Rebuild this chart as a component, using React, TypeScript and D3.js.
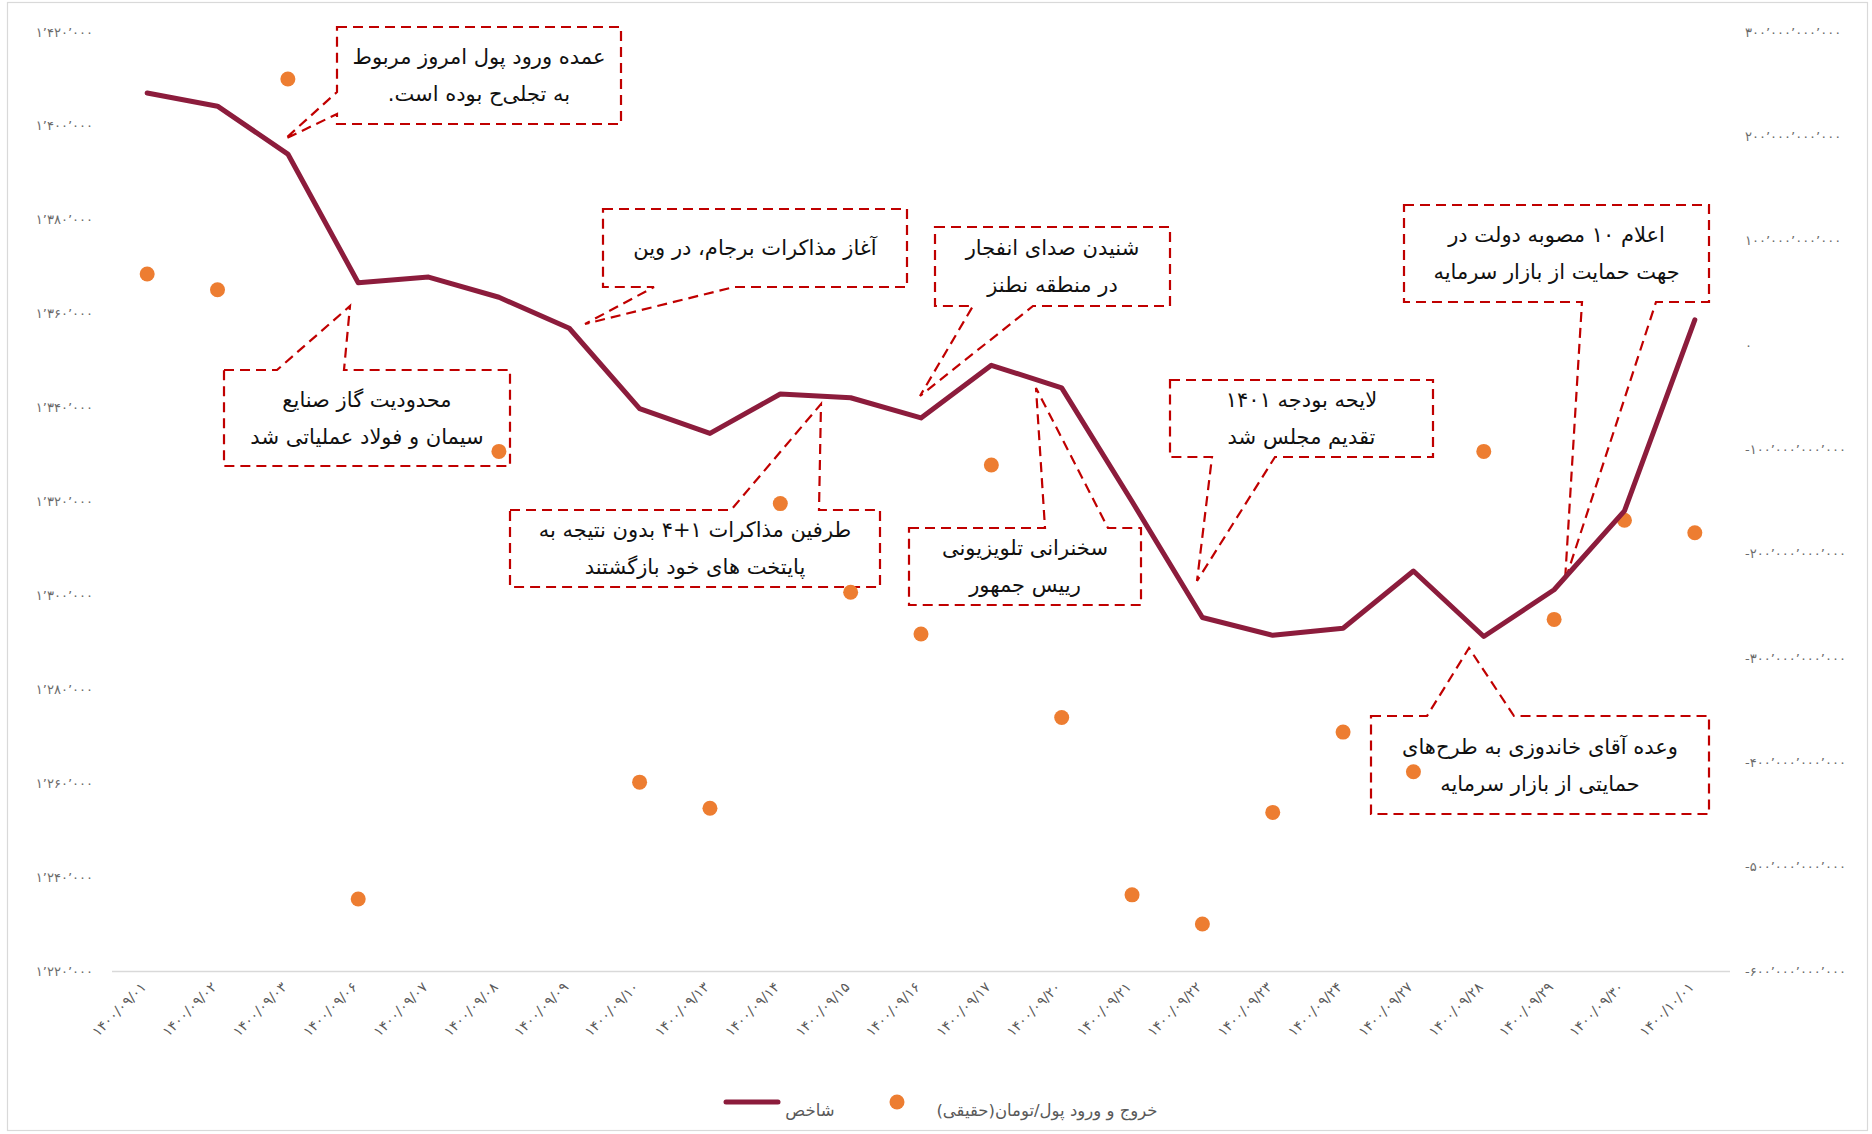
import React from "react";
import * as d3 from "d3";

// ---------- data ----------
const categories = [
  "1400/09/01", "1400/09/02", "1400/09/03", "1400/09/06", "1400/09/07", "1400/09/08",
  "1400/09/09", "1400/09/10", "1400/09/13", "1400/09/14", "1400/09/15", "1400/09/16",
  "1400/09/17", "1400/09/20", "1400/09/21", "1400/09/22", "1400/09/23", "1400/09/24",
  "1400/09/27", "1400/09/28", "1400/09/29", "1400/09/30", "1400/10/01",
];

// شاخص (left axis)
const indexValues = [
  1407000, 1404200, 1394000, 1366600, 1367800, 1363500, 1356900, 1339800, 1334500,
  1342900, 1342100, 1337800, 1349000, 1344200, 1320000, 1295300, 1291500, 1293000,
  1305200, 1291250, 1301200, 1318000, 1358700,
];

// خروج و ورود پول حقیقی (right axis), billions of toman
const flowBillions: (number | null)[] = [
  68, 53, 255, -531, null, -102, null, -419, -444, -152, -237, -277, -115, -357,
  -527, -555, -448, -371, -409, -102, -263, -168, -180,
];

const leftTicks = d3.range(1220000, 1420001, 20000);
const rightTicks = d3.range(-600, 301, 100).map((v) => v * 1e9);

const seriesNames = ["شاخص", "خروج و ورود پول/تومان(حقیقی)"];

const annotationTexts: string[][] = [
  ["عمده ورود پول امروز مربوط", "به تجلی‌ح بوده است."],
  ["محدودیت گاز صنایع", "سیمان و فولاد عملیاتی شد"],
  ["آغاز مذاکرات برجام، در وین"],
  ["شنیدن صدای انفجار", "در منطقه نطنز"],
  ["طرفین مذاکرات ۱+۴ بدون نتیجه به", "پایتخت های خود بازگشتند"],
  ["سخنرانی تلویزیونی", "رییس جمهور"],
  ["لایحه بودجه ۱۴۰۱", "تقدیم مجلس شد"],
  ["اعلام ۱۰ مصوبه دولت در", "جهت حمایت از بازار سرمایه"],
  ["وعده آقای خاندوزی  به طرح‌های", "حمایتی از بازار سرمایه"],
];

// ---------- layout ----------
const W = 1872;
const H = 1134;
const PL = 112, PR = 1730, PT = 32, PB = 971;

type Callout = { x: number; y: number; w: number; h: number; side: "top" | "bottom" | "left"; a: number; b: number; tx: number; ty: number };
const calloutLayout: Callout[] = [
  { x: 337, y: 27, w: 284, h: 97, side: "left", a: 92, b: 114, tx: 285, ty: 139 },
  { x: 224, y: 370, w: 286, h: 96, side: "top", a: 277, b: 344, tx: 350, ty: 306 },
  { x: 603, y: 209, w: 304, h: 78, side: "bottom", a: 654, b: 734, tx: 585, ty: 324 },
  { x: 935, y: 227, w: 235, h: 79, side: "bottom", a: 973, b: 1033, tx: 920, ty: 396 },
  { x: 510, y: 510, w: 370, h: 77, side: "top", a: 731, b: 819, tx: 821, ty: 404 },
  { x: 909, y: 528, w: 232, h: 77, side: "top", a: 1045, b: 1108, tx: 1036, ty: 388 },
  { x: 1170, y: 380, w: 263, h: 77, side: "bottom", a: 1212, b: 1275, tx: 1197, ty: 581 },
  { x: 1404, y: 205, w: 305, h: 97, side: "bottom", a: 1582, b: 1656, tx: 1565, ty: 581 },
  { x: 1371, y: 716, w: 338, h: 98, side: "top", a: 1427, b: 1514, tx: 1469, ty: 648 },
];

const FA_DIGITS = "۰۱۲۳۴۵۶۷۸۹";
const toFa = (s: string) => s.replace(/[0-9]/g, (d) => FA_DIGITS[+d]);
const fmtNum = (v: number) =>
  (v < 0 ? "-" : "") + toFa(d3.format(",")(Math.abs(v)).replace(/,/g, "٬"));

function calloutPath(c: Callout) {
  const { x, y, w, h, side, a, b, tx, ty } = c;
  if (side === "bottom")
    return `M${x},${y}H${x + w}V${y + h}H${b}L${tx},${ty}L${a},${y + h}H${x}Z`;
  if (side === "top")
    return `M${x},${y}H${a}L${tx},${ty}L${b},${y}H${x + w}V${y + h}H${x}Z`;
  return `M${x},${y}H${x + w}V${y + h}H${x}V${b}L${tx},${ty}L${x},${a}Z`;
}

const FONT = "'DejaVu Sans', sans-serif";
const LINE_COLOR = "#8C1C3C";
const DOT_COLOR = "#ED7D31";
const BOX_COLOR = "#C00000";

export default function App() {
  const x = d3.scalePoint<string>().domain(categories).range([PL, PR]).padding(0.5);
  const yL = d3.scaleLinear().domain([1220000, 1420000]).range([PB, PT]);
  const yR = d3.scaleLinear().domain([-600e9, 300e9]).range([PB, PT]);

  const linePath = d3
    .line<number>()
    .x((_, i) => x(categories[i])!)
    .y((d) => yL(d))(indexValues)!;

  return (
    <svg
      width={W}
      height={H}
      style={{ position: "absolute", left: 0, top: 0, background: "#fff" }}
      fontFamily={FONT}
    >
      <rect x={7.5} y={2.5} width={1860} height={1128} fill="#fff" stroke="#D9D9D9" strokeWidth={1.2} />

      {/* x axis line */}
      <line x1={PL} x2={PR} y1={PB + 0.5} y2={PB + 0.5} stroke="#D9D9D9" strokeWidth={1.5} />

      {/* left axis labels */}
      {leftTicks.map((t) => (
        <text key={"l" + t} x={93} y={yL(t)} dy="0.35em" textAnchor="end" fontSize={13} letterSpacing={0.9} fill="#6b6b6b" direction="ltr">
          {fmtNum(t)}
        </text>
      ))}

      {/* right axis labels */}
      {rightTicks.map((t) => (
        <text key={"r" + t} x={1745} y={yR(t)} dy="0.35em" textAnchor="start" fontSize={13} letterSpacing={0.9} fill="#6b6b6b" direction="ltr">
          {fmtNum(t)}
        </text>
      ))}

      {/* x labels */}
      {categories.map((c) => {
        const cx = x(c)!;
        const cy = 988;
        return (
          <text
            key={"x" + c}
            x={cx}
            y={cy}
            textAnchor="end"
            fontSize={14}
            letterSpacing={0.4}
            fill="#595959"
            direction="ltr"
            transform={`rotate(-45 ${cx} ${cy})`}
          >
            {toFa(c)}
          </text>
        );
      })}

      {/* callouts */}
      {calloutLayout.map((c, i) => {
        const lines = annotationTexts[i];
        const cx = c.x + c.w / 2;
        const cy = c.y + c.h / 2;
        return (
          <g key={"c" + i}>
            <path d={calloutPath(c)} fill="none" stroke={BOX_COLOR} strokeWidth={2.2} strokeDasharray="10 6" />
            {lines.map((t, j) => (
              <text
                key={j}
                x={cx}
                y={cy + (j - (lines.length - 1) / 2) * 37}
                dy="0.35em"
                textAnchor="middle"
                direction="rtl"
                fontSize={21}
                fill="#111"
              >
                {t}
              </text>
            ))}
          </g>
        );
      })}

      {/* dots */}
      {flowBillions.map((v, i) =>
        v === null ? null : (
          <circle key={"d" + i} cx={x(categories[i])!} cy={yR(v * 1e9)} r={7.5} fill={DOT_COLOR} />
        )
      )}

      {/* line */}
      <path d={linePath} fill="none" stroke={LINE_COLOR} strokeWidth={5} strokeLinejoin="round" strokeLinecap="round" />

      {/* legend */}
      <line x1={726} x2={778} y1={1102} y2={1102} stroke={LINE_COLOR} strokeWidth={5} strokeLinecap="round" />
      <text x={810} y={1110} dy="0.35em" textAnchor="middle" direction="rtl" fontSize={16.5} fill="#595959">
        {seriesNames[0]}
      </text>
      <circle cx={897} cy={1102} r={7.5} fill={DOT_COLOR} />
      <text x={1047} y={1110} dy="0.35em" textAnchor="middle" direction="rtl" fontSize={16.5} fill="#595959">
        {seriesNames[1]}
      </text>
    </svg>
  );
}
